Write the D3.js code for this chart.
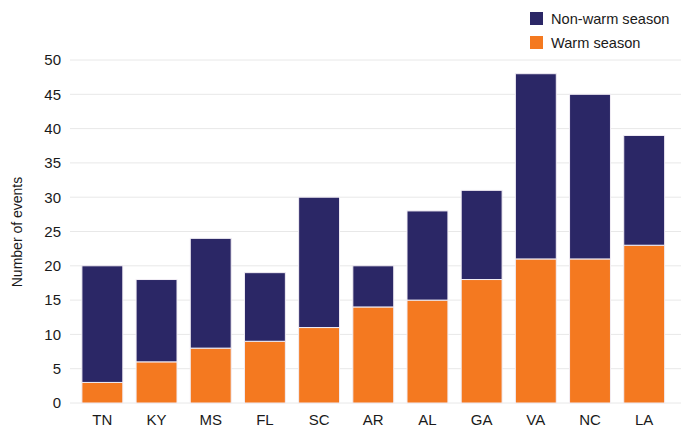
<!DOCTYPE html>
<html>
<head>
<meta charset="utf-8">
<script src="https://cdn.jsdelivr.net/npm/d3@7"></script>
<style>
  body { margin: 0; background: #fff; }
  svg text { font-family: "Liberation Sans", Arial, sans-serif; }
</style>
</head>
<body>
<div id="chart"></div>
<script>
// data
var states = ["TN", "KY", "MS", "FL", "SC", "AR", "AL", "GA", "VA", "NC", "LA"];
var warm = [3, 6, 8, 9, 11, 14, 15, 18, 21, 21, 23];
var totals = [20, 18, 24, 19, 30, 20, 28, 31, 48, 45, 39];
var nonWarm = totals.map((t, i) => t - warm[i]);
var yTicks = [0, 5, 10, 15, 20, 25, 30, 35, 40, 45, 50];

var keys = ["Warm season", "Non-warm season"];
var colors = { "Warm season": "#f47920", "Non-warm season": "#2b2766" };

var W = 681, H = 436;
var svg = d3.select("#chart").append("svg")
    .attr("width", W)
    .attr("height", H);

var rows = states.map((s, i) => ({ state: s, "Warm season": warm[i], "Non-warm season": nonWarm[i] }));
var stack = d3.stack().keys(keys)(rows);

var x = d3.scaleBand()
    .domain(states)
    .range([75.4, 617 + 54.15])
    .paddingInner(0.245)
    .paddingOuter(0.12);

var y = d3.scaleLinear()
    .domain([0, 50])
    .range([403, 60]);

// gridlines
svg.append("g")
    .selectAll("line")
    .data(yTicks)
    .enter()
    .append("line")
    .attr("x1", 70)
    .attr("x2", W)
    .attr("y1", d => y(d))
    .attr("y2", d => y(d))
    .attr("stroke", "#e8e8e8")
    .attr("stroke-width", 1);

// y axis labels
var yAxis = svg.append("g")
    .attr("transform", "translate(61,0)")
    .call(d3.axisLeft(y).tickValues(yTicks).tickSize(0).tickPadding(0));
yAxis.select(".domain").remove();
yAxis.selectAll("text")
    .style("font-size", "15px")
    .attr("fill", "#1a1a1a");

// x axis labels
var xAxis = svg.append("g")
    .attr("transform", "translate(0,408)")
    .call(d3.axisBottom(x).tickSize(0).tickPadding(6));
xAxis.select(".domain").remove();
xAxis.selectAll("text")
    .style("font-size", "15px")
    .attr("fill", "#1a1a1a");

// bars
svg.append("g")
    .selectAll("g")
    .data(stack)
    .enter()
    .append("g")
    .attr("fill", d => colors[d.key])
    .selectAll("rect")
    .data(d => d)
    .enter()
    .append("rect")
    .attr("x", d => x(d.data.state))
    .attr("width", x.bandwidth())
    .attr("y", d => y(d[1]))
    .attr("height", d => y(d[0]) - y(d[1]))
    .attr("stroke", "#f2eef5")
    .attr("stroke-width", 1);

// y label
svg.append("text")
    .attr("transform", "rotate(-90)")
    .attr("x", -232)
    .attr("y", 22)
    .attr("text-anchor", "middle")
    .style("font-size", "14px")
    .attr("fill", "#1a1a1a")
    .text("Number of events");

// legend
var legendKeys = ["Non-warm season", "Warm season"];
var leg = svg.append("g")
    .selectAll("g")
    .data(legendKeys)
    .enter()
    .append("g")
    .attr("transform", (d, i) => "translate(530," + (12 + i * 24) + ")");
leg.append("rect")
    .attr("width", 13)
    .attr("height", 13)
    .attr("fill", d => colors[d]);
leg.append("text")
    .attr("x", 21)
    .attr("y", 7)
    .attr("dy", "0.35em")
    .style("font-size", "14.6px")
    .attr("fill", "#1a1a1a")
    .text(d => d);
</script>
</body>
</html>
